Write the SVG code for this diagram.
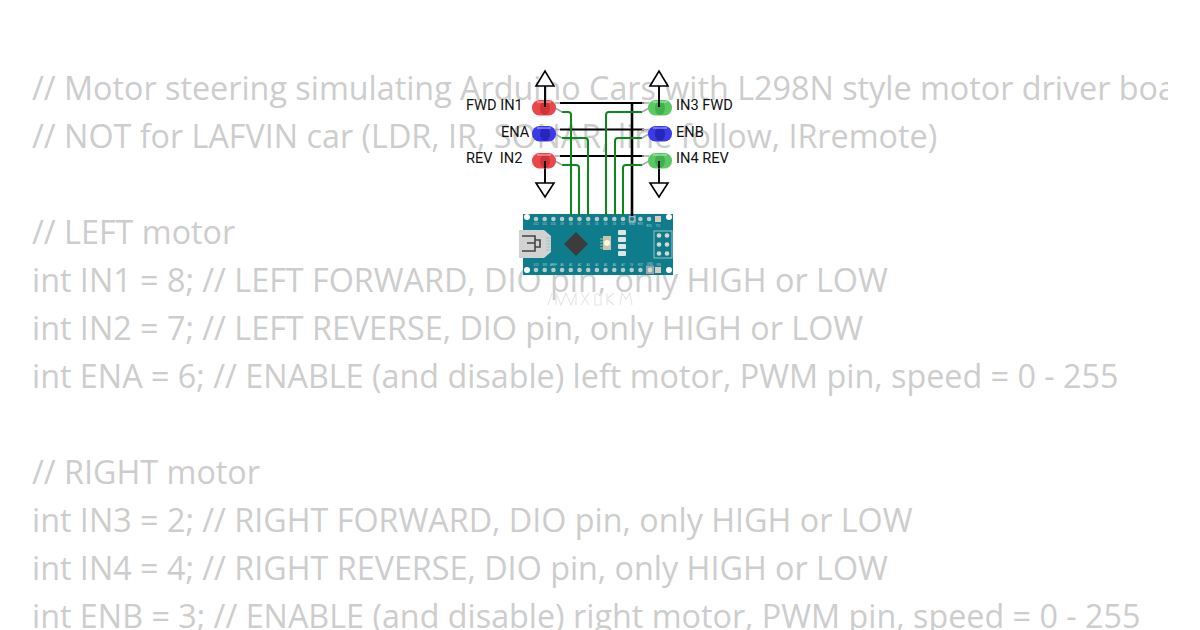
<svg xmlns="http://www.w3.org/2000/svg" width="1200" height="630" viewBox="0 0 1200 630">
<style>
.code{font-family:"Open Sans","Noto Sans",sans-serif;font-size:32.3px;fill:#cdcdcd}
.lbl{font-family:Roboto,"Liberation Sans",sans-serif;font-size:14.6px;fill:#111}
.g{fill:none;stroke:#0a8a1a;stroke-width:2}
.k{fill:none;stroke:#000;stroke-width:1.9}
.kk{fill:none;stroke:#000;stroke-width:2.6}
.lead{fill:none;stroke:#a8a8a8;stroke-width:1.6}
.gnd{fill:#fff;stroke:#000;stroke-width:1.6}
.pin{fill:#b9c9cc}
.sl{font-family:"Liberation Sans",sans-serif;font-size:2.6px;fill:#b9d3d7;text-anchor:middle}
.ghost{fill:none;stroke:#e6e6e6;stroke-width:1.2}
</style>
<defs>
<clipPath id="cc"><rect x="0" y="0" width="1168" height="630"/></clipPath>
<g id="pins"><circle cx="0" cy="0" r="2.3" class="pin"/></g>
<g id="gup"><path d="M-9 15L0 0L9 15Z" class="gnd"/><path d="M0 15V34" class="k"/></g>
<g id="gdn"><path d="M0 -15V0" class="k"/><path d="M-9 0L0 14L9 0Z" class="gnd"/></g>
</defs>
<rect width="1200" height="630" fill="#fff"/>
<g id="code" clip-path="url(#cc)" class="code">
<text x="32" y="100">// Motor steering simulating Arduino Cars with L298N style motor driver boards</text>
<text x="32" y="148">// NOT for LAFVIN car (LDR, IR, SONAR, line follow, IRremote)</text>
<text x="32" y="244">// LEFT motor</text>
<text x="32" y="292">int IN1 = 8; // LEFT FORWARD, DIO pin, only HIGH or LOW</text>
<text x="32" y="340">int IN2 = 7; // LEFT REVERSE, DIO pin, only HIGH or LOW</text>
<text x="32" y="388">int ENA = 6; // ENABLE (and disable) left motor, PWM pin, speed = 0 - 255</text>
<text x="32" y="484">// RIGHT motor</text>
<text x="32" y="532">int IN3 = 2; // RIGHT FORWARD, DIO pin, only HIGH or LOW</text>
<text x="32" y="580">int IN4 = 4; // RIGHT REVERSE, DIO pin, only HIGH or LOW</text>
<text x="32" y="628">int ENB = 3; // ENABLE (and disable) right motor, PWM pin, speed = 0 - 255</text>
</g>
<g id="board">
<rect x="523" y="214" width="150" height="61" fill="#0f7c8c"/>
<circle cx="527" cy="217" r="3" fill="#fff"/><circle cx="669" cy="217" r="3" fill="#fff"/>
<circle cx="527" cy="270" r="3" fill="#fff"/><circle cx="669" cy="270" r="3" fill="#fff"/>
<g id="toppins">
<use href="#pins" x="536" y="219"/><use href="#pins" x="544.7" y="219"/><use href="#pins" x="553.4" y="219"/><use href="#pins" x="562.1" y="219"/><use href="#pins" x="570.8" y="219"/><use href="#pins" x="579.5" y="219"/><use href="#pins" x="588.2" y="219"/><use href="#pins" x="596.9" y="219"/><use href="#pins" x="605.6" y="219"/><use href="#pins" x="614.3" y="219"/><use href="#pins" x="623" y="219"/><use href="#pins" x="640.4" y="219"/><use href="#pins" x="649.1" y="219"/>
<rect x="628.7" y="215.5" width="7" height="7" fill="#9fb3b6"/><circle cx="632" cy="219" r="2" fill="#0f7c8c"/>
<rect x="655" y="216" width="6" height="6" fill="#d9c9c0"/>
</g>
<g id="botpins">
<use href="#pins" x="536" y="270"/><use href="#pins" x="544.7" y="270"/><use href="#pins" x="553.4" y="270"/><use href="#pins" x="562.1" y="270"/><use href="#pins" x="570.8" y="270"/><use href="#pins" x="579.5" y="270"/><use href="#pins" x="588.2" y="270"/><use href="#pins" x="596.9" y="270"/><use href="#pins" x="605.6" y="270"/><use href="#pins" x="614.3" y="270"/><use href="#pins" x="623" y="270"/><use href="#pins" x="631.7" y="270"/><use href="#pins" x="640.4" y="270"/>
<rect x="646" y="265.500" width="8" height="8.500" fill="#8fa5a8"/><circle cx="650" cy="270" r="2.400" fill="#d8d8d8"/>
<rect x="655" y="267" width="6" height="6" fill="#d9c9c0"/>
</g>
<g id="silk" class="sl">
<text x="536" y="224.500">D12</text><text x="544.700" y="224.500">D11</text><text x="553.400" y="224.500">D10</text><text x="562.100" y="224.500">D9</text><text x="570.800" y="224.500">D8</text><text x="579.500" y="224.500">D7</text><text x="588.200" y="224.500">D6</text><text x="596.900" y="224.500">D5</text><text x="605.600" y="224.500">D4</text><text x="614.300" y="224.500">D3</text><text x="623" y="224.500">D2</text><text x="632" y="224.500">GND</text><text x="640.400" y="224.500">RST</text><text x="649.100" y="227">RX0</text><text x="658" y="227">TX1</text>
<text x="536" y="266">D13</text><text x="544.700" y="266">3V3</text><text x="553.400" y="266">AREF</text><text x="562.100" y="266">A0</text><text x="570.800" y="266">A1</text><text x="579.500" y="266">A2</text><text x="588.200" y="266">A3</text><text x="596.900" y="266">A4</text><text x="605.600" y="266">A5</text><text x="614.300" y="266">A6</text><text x="623" y="266">A7</text><text x="631.700" y="266">5V</text><text x="640.400" y="266">RST</text><text x="650" y="264.500">GND</text><text x="658.500" y="266">VIN</text>
</g>
<path d="M519 230H544L551 236V252L544 258H519Z" fill="#d2d2d2"/>
<path d="M522 236H535V251H522M535 243H527M535 240H540V247H535" fill="none" stroke="#444" stroke-width="1.600"/>
<path d="M546 238h5M546 241h5M546 244h5M546 247h5M546 250h5" stroke="#a9c0c4" stroke-width="1"/>
<path d="M576 232L588 244L576 256L564 244Z" fill="#3c3c3e"/>
<rect x="603" y="236" width="8" height="14" fill="#c9c5b0"/><circle cx="607" cy="243" r="3" fill="#fff6d8"/>
<path d="M600 239h3M600 242h3M600 245h3M600 248h3" stroke="#9fc2b0" stroke-width="1"/>
<rect x="618" y="230" width="8" height="5" rx="1" fill="#dfe5e5"/><rect x="618" y="237" width="8" height="5" rx="1" fill="#dfe5e5"/><rect x="618" y="244" width="8" height="5" rx="1" fill="#dfe5e5"/><rect x="618" y="251" width="8" height="5" rx="1" fill="#dfe5e5"/>
<rect x="654" y="231" width="18" height="27" fill="none" stroke="#9cc0c5" stroke-width="1"/>
<circle cx="659" cy="235.500" r="2.300" fill="#d8d8d0"/><circle cx="667" cy="235.500" r="2.300" fill="#d8d8d0"/><circle cx="659" cy="244.500" r="2.300" fill="#d8d8d0"/><circle cx="667" cy="244.500" r="2.300" fill="#d8d8d0"/><circle cx="659" cy="253.500" r="2.300" fill="#d8d8d0"/><circle cx="667" cy="253.500" r="2.300" fill="#d8d8d0"/>
<path class="ghost" d="M548 305L552 293M556 305V293L561 305L566 293L571 305L576 293V305M581 293L589 305M589 293L581 305M595 294V305H601V294H595M607 293V305M607 299L614 293M607 299L614 305M620 305L622 293L626 299L630 293L632 305"/>
</g>
<g id="connectors">
<path class="k" d="M560 103H644M560 129.500H644M560 156H644"/>
<path class="kk" d="M632 103V216"/>
<path class="g" d="M562 112H568Q571 112 571 115V216"/>
<path class="g" d="M562 138H585Q588 138 588 141V216"/>
<path class="g" d="M562 165H576Q579 165 579 168V216"/>
<path class="g" d="M642 112H609Q606 112 606 115V216"/>
<path class="g" d="M642 138H618Q615 138 615 141V216"/>
<path class="g" d="M642 165H626Q623 165 623 168V216"/>
<path class="lead" d="M555 103H560M555 129.500H560M555 156H560M555 108L562 112M555 134L562 138M555 161L562 165M649 103H642M649 129.500H642M649 156H642M649 108L642 112M649 134L642 138M649 161L642 165"/>
</g>
<g id="gnd1"><use href="#gup" x="545" y="71"/></g>
<g id="gnd2"><use href="#gup" x="659" y="71"/></g>
<g id="gnd3"><use href="#gdn" x="545" y="183"/></g>
<g id="gnd4"><use href="#gdn" x="659" y="183"/></g>
<g id="led-in1"><rect x="532" y="100" width="24" height="15.500" rx="7.500" fill="#e8484a"/><ellipse cx="545" cy="108" rx="5" ry="7" fill="#cf3336"/><path d="M537 102H551" stroke="#f7a5a5" stroke-width="1.200"/><path d="M545 100V107" class="k"/></g>
<g id="led-ena"><rect x="532" y="126" width="24" height="15.500" rx="7.500" fill="#3a3ae6"/><ellipse cx="545" cy="134" rx="5" ry="7" fill="#2626bc"/><path d="M537 128H551" stroke="#a0a0f4" stroke-width="1.200"/></g>
<g id="led-in2"><rect x="532" y="153" width="24" height="15.500" rx="7.500" fill="#e8484a"/><ellipse cx="545" cy="161" rx="5" ry="7" fill="#cf3336"/><path d="M537 155H551" stroke="#f7a5a5" stroke-width="1.200"/><path d="M545 161V168" class="k"/></g>
<g id="led-in3"><rect x="648" y="100" width="24" height="15.500" rx="7.500" fill="#5ac964"/><ellipse cx="660" cy="108" rx="5" ry="7" fill="#42ae4c"/><path d="M653 102H667" stroke="#a8e8ae" stroke-width="1.200"/><path d="M659 100V107" class="k"/></g>
<g id="led-enb"><rect x="648" y="126" width="24" height="15.500" rx="7.500" fill="#3a3ae6"/><ellipse cx="660" cy="134" rx="5" ry="7" fill="#2626bc"/><path d="M653 128H667" stroke="#a0a0f4" stroke-width="1.200"/></g>
<g id="led-in4"><rect x="648" y="153" width="24" height="15.500" rx="7.500" fill="#5ac964"/><ellipse cx="660" cy="161" rx="5" ry="7" fill="#42ae4c"/><path d="M653 155H667" stroke="#a8e8ae" stroke-width="1.200"/><path d="M659 161V168" class="k"/></g>
<g id="labels" class="lbl">
<text x="466" y="110">FWD IN1</text>
<text x="501" y="137">ENA</text>
<text x="466" y="163" xml:space="preserve">REV  IN2</text>
<text x="676" y="110">IN3 FWD</text>
<text x="676" y="137">ENB</text>
<text x="676" y="163">IN4 REV</text>
</g>
</svg>
